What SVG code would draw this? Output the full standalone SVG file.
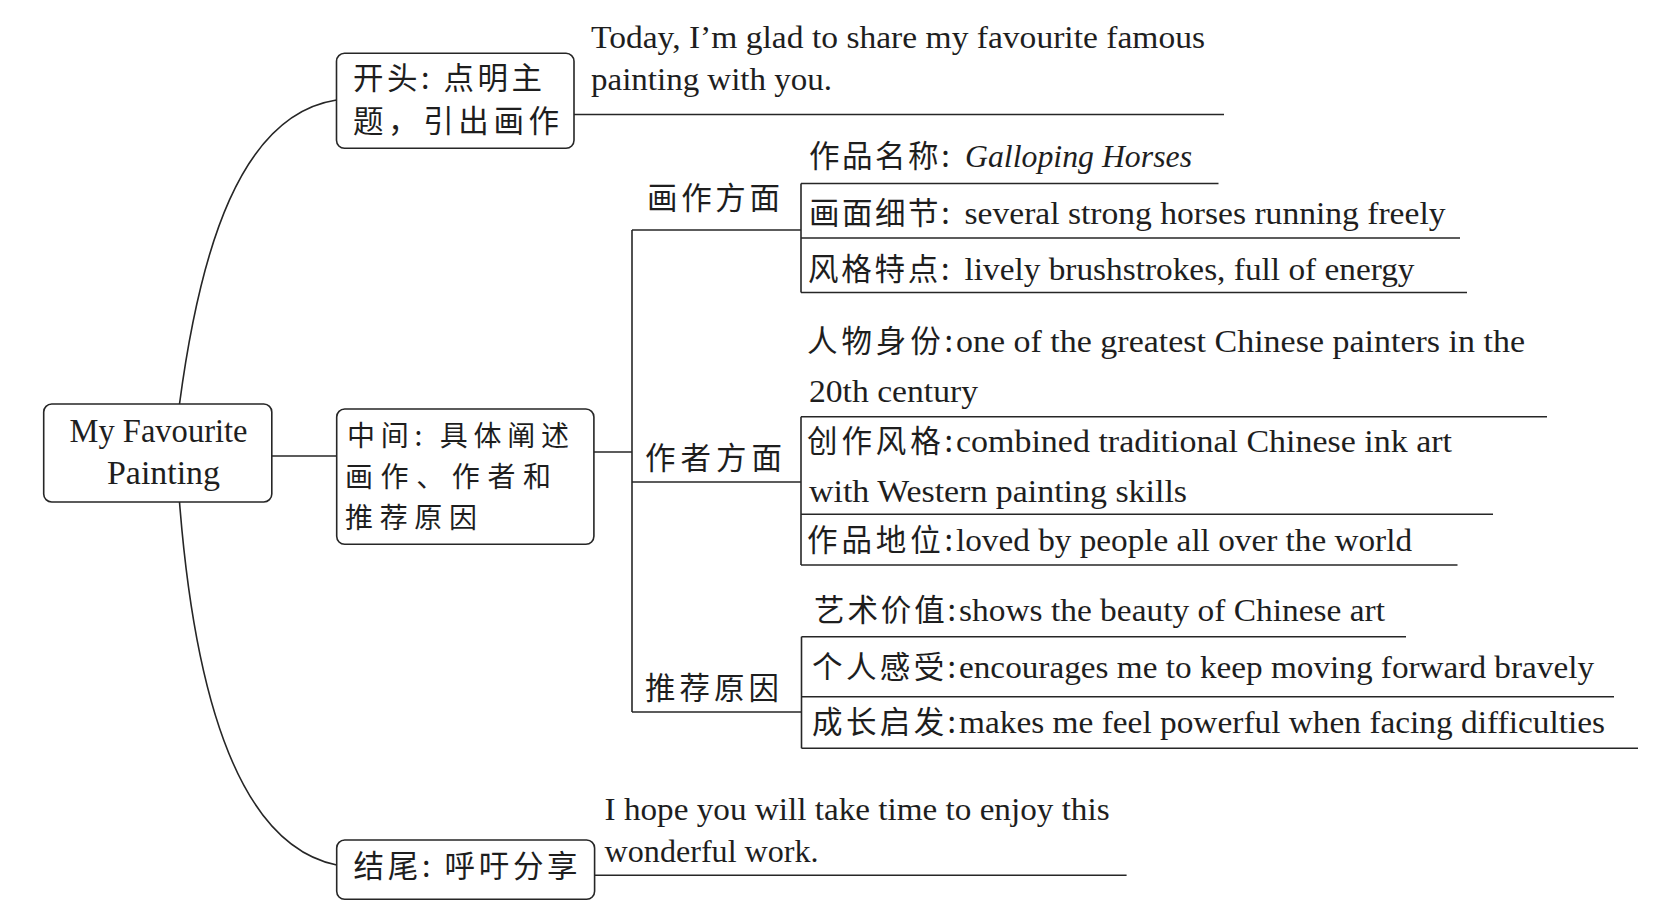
<svg xmlns="http://www.w3.org/2000/svg" width="1671" height="920" viewBox="0 0 1671 920">
<style>
.bg{fill:#ffffff}
.box{fill:#ffffff;stroke:#262626;stroke-width:1.6}
.ln{fill:none;stroke:#262626;stroke-width:1.6}
.en{font-family:"Liberation Serif","Times New Roman","Noto Sans CJK SC",serif;font-size:32px;fill:#1e1e1e}
.cn{font-family:"Noto Sans CJK SC","Noto Sans CJK TC",sans-serif;font-size:30.5px;fill:#1e1e1e}
.cm{font-size:28px}
.root{font-family:"Liberation Serif","Times New Roman",serif;font-size:33px;fill:#1e1e1e}
</style>
<rect class="bg" x="0" y="0" width="1671" height="920"/>
<g id="connectors">
  <path class="ln" d="M179.5,404 C200,250 240,115 336.5,100"/>
  <path class="ln" d="M179.5,502 C195,700 240,845 336.7,865"/>
  <path class="ln" d="M272,456 L337,456"/>
  <path class="ln" d="M594,452 L632,452"/>
  <path class="ln" d="M632,230 L632,712"/>
  <path class="ln" d="M632,230 L801,230"/>
  <path class="ln" d="M632,482 L801,482"/>
  <path class="ln" d="M632,712 L801,712"/>
  <path class="ln" d="M574,114.5 L1224,114.5"/>
  <path class="ln" d="M594.6,875.3 L1126.6,875.3"/>
  <path class="ln" d="M801,183.5 L801,292.5"/>
  <path class="ln" d="M801,183.5 L1218.5,183.5"/>
  <path class="ln" d="M801,238 L1460,238"/>
  <path class="ln" d="M801,292.5 L1467,292.5"/>
  <path class="ln" d="M801,416.7 L801,565"/>
  <path class="ln" d="M801,416.7 L1547,416.7"/>
  <path class="ln" d="M801,514.3 L1493,514.3"/>
  <path class="ln" d="M801,565 L1457.5,565"/>
  <path class="ln" d="M801.5,636.7 L801.5,748.3"/>
  <path class="ln" d="M801.5,636.7 L1406,636.7"/>
  <path class="ln" d="M801.5,696.7 L1614,696.7"/>
  <path class="ln" d="M801.5,748.3 L1638,748.3"/>
</g>
<g id="root">
  <rect class="box" x="43.7" y="404" width="228.1" height="98" rx="8"/>
  <text class="root" x="158.5" y="441.7" text-anchor="middle" textLength="178" lengthAdjust="spacingAndGlyphs">My Favourite</text>
  <text class="root" x="163.5" y="484.3" text-anchor="middle" textLength="113" lengthAdjust="spacingAndGlyphs">Painting</text>
</g>
<g id="opening">
  <rect class="box" x="336.5" y="53.3" width="237.5" height="95" rx="8"/>
  <text class="cn" x="353" y="89" textLength="189" lengthAdjust="spacing">开头: 点明主</text>
  <text class="cn" x="353" y="132" textLength="206" lengthAdjust="spacing">题，引出画作</text>
  <text class="en" x="591" y="48.3" textLength="614" lengthAdjust="spacingAndGlyphs">Today, I’m glad to share my favourite famous</text>
  <text class="en" x="591" y="90" textLength="241" lengthAdjust="spacingAndGlyphs">painting with you.</text>
</g>
<g id="middle">
  <rect class="box" x="336.7" y="409" width="257.2" height="135.3" rx="8"/>
  <text class="cn cm" x="347" y="446" textLength="222" lengthAdjust="spacing">中间: 具体阐述</text>
  <text class="cn cm" x="345" y="487" textLength="206" lengthAdjust="spacing">画作、作者和</text>
  <text class="cn cm" x="345" y="527.5" textLength="132" lengthAdjust="spacing">推荐原因</text>
</g>
<g id="painting">
  <text class="cn" x="647" y="208.5" textLength="133" lengthAdjust="spacing">画作方面</text>
  <text class="en" y="167"><tspan class="cn" x="809" textLength="150" lengthAdjust="spacing">作品名称: </tspan><tspan x="965" font-style="italic" textLength="227" lengthAdjust="spacingAndGlyphs">Galloping Horses</tspan></text>
  <text class="en" y="224"><tspan class="cn" x="809" textLength="150" lengthAdjust="spacing">画面细节: </tspan><tspan x="964.5" textLength="481" lengthAdjust="spacingAndGlyphs">several strong horses running freely</tspan></text>
  <text class="en" y="280"><tspan class="cn" x="808" textLength="151" lengthAdjust="spacing">风格特点: </tspan><tspan x="964.5" textLength="450" lengthAdjust="spacingAndGlyphs">lively brushstrokes, full of energy</tspan></text>
</g>
<g id="author">
  <text class="cn" x="645" y="468.5" textLength="137" lengthAdjust="spacing">作者方面</text>
  <text class="en" y="351.7"><tspan class="cn" x="807" textLength="146" lengthAdjust="spacing">人物身份:</tspan><tspan x="956" textLength="569" lengthAdjust="spacingAndGlyphs">one of the greatest Chinese painters in the</tspan></text>
  <text class="en" x="809" y="401.7" textLength="169" lengthAdjust="spacingAndGlyphs">20th century</text>
  <text class="en" y="451.7"><tspan class="cn" x="807" textLength="146" lengthAdjust="spacing">创作风格:</tspan><tspan x="956" textLength="496" lengthAdjust="spacingAndGlyphs">combined traditional Chinese ink art</tspan></text>
  <text class="en" x="809" y="501.7" textLength="378" lengthAdjust="spacingAndGlyphs">with Western painting skills</text>
  <text class="en" y="550.7"><tspan class="cn" x="807" textLength="146" lengthAdjust="spacing">作品地位:</tspan><tspan x="956" textLength="456" lengthAdjust="spacingAndGlyphs">loved by people all over the world</tspan></text>
</g>
<g id="reasons">
  <text class="cn" x="645" y="699" textLength="134" lengthAdjust="spacing">推荐原因</text>
  <text class="en" y="620.5"><tspan class="cn" x="814" textLength="142" lengthAdjust="spacing">艺术价值:</tspan><tspan x="959" textLength="426" lengthAdjust="spacingAndGlyphs">shows the beauty of Chinese art</tspan></text>
  <text class="en" y="678"><tspan class="cn" x="812" textLength="144" lengthAdjust="spacing">个人感受:</tspan><tspan x="959" textLength="635" lengthAdjust="spacingAndGlyphs">encourages me to keep moving forward bravely</tspan></text>
  <text class="en" y="733"><tspan class="cn" x="812" textLength="144" lengthAdjust="spacing">成长启发:</tspan><tspan x="959" textLength="646" lengthAdjust="spacingAndGlyphs">makes me feel powerful when facing difficulties</tspan></text>
</g>
<g id="ending">
  <rect class="box" x="336.7" y="840" width="257.9" height="59.3" rx="8"/>
  <text class="cn" x="353.6" y="877" textLength="224" lengthAdjust="spacing">结尾: 呼吁分享</text>
  <text class="en" x="604.6" y="820" textLength="505" lengthAdjust="spacingAndGlyphs">I hope you will take time to enjoy this</text>
  <text class="en" x="604.6" y="861.7" textLength="214" lengthAdjust="spacingAndGlyphs">wonderful work.</text>
</g>
</svg>
